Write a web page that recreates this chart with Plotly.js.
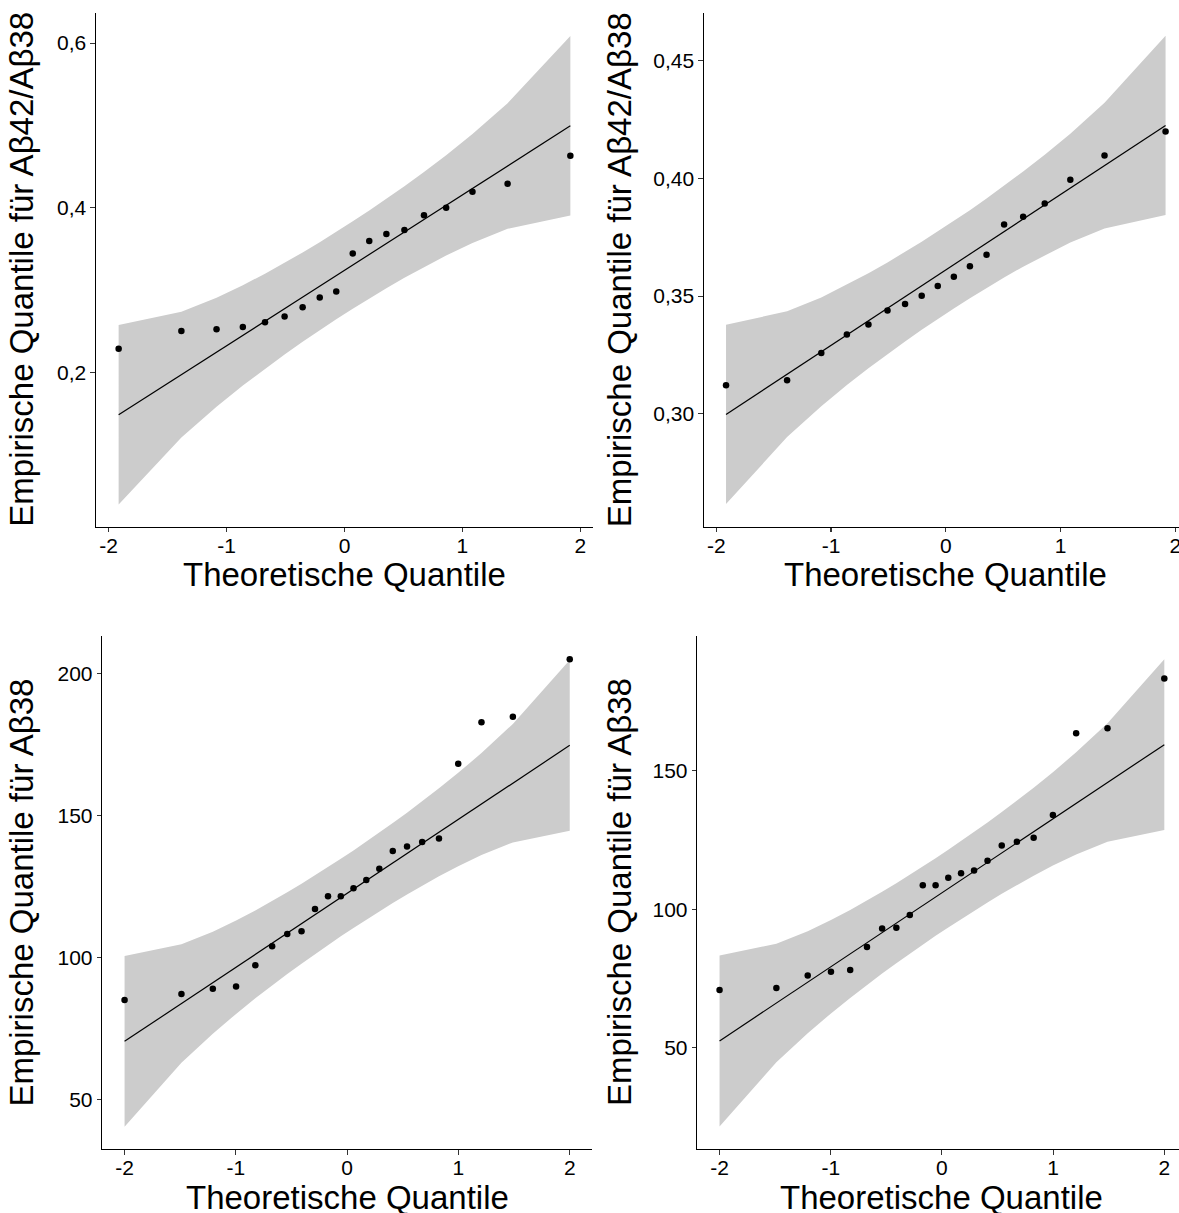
<!DOCTYPE html>
<html>
<head>
<meta charset="utf-8">
<script src="https://cdn.plot.ly/plotly-3.0.1.min.js"></script>
<style>html,body{margin:0;padding:0;background:#fff;}#chart{width:1179px;height:1213px;}</style>
</head>
<body>
<div id="chart"></div>
<script>
// Theoretical quantiles (x positions)
const xq18 = [-1.915, -1.383, -1.085, -0.862, -0.674, -0.508, -0.355, -0.210, -0.070, 0.070, 0.210, 0.355, 0.508, 0.674, 0.862, 1.085, 1.383, 1.915];
const xq22 = [-2.000, -1.489, -1.207, -0.998, -0.825, -0.674, -0.538, -0.410, -0.289, -0.172, -0.057, 0.057, 0.172, 0.289, 0.410, 0.538, 0.674, 0.825, 0.998, 1.207, 1.489, 2.000];

// Top-left: Aβ42/Aβ38
const tlPoints = [0.2287, 0.2502, 0.2522, 0.2551, 0.2608, 0.2677, 0.2790, 0.2908, 0.2981, 0.3444, 0.3594, 0.3680, 0.3728, 0.3907, 0.4000, 0.4195, 0.4292, 0.4630];
const tlLine = [0.1483, 0.4995];
const tlUpper = [0.2574, 0.2735, 0.2906, 0.3058, 0.3198, 0.3330, 0.3456, 0.3581, 0.3706, 0.3834, 0.3967, 0.4108, 0.4262, 0.4434, 0.4638, 0.4896, 0.5271, 0.6086];
const tlLower = [0.0392, 0.1207, 0.1582, 0.1840, 0.2044, 0.2216, 0.2370, 0.2511, 0.2644, 0.2772, 0.2897, 0.3022, 0.3148, 0.3280, 0.3420, 0.3572, 0.3743, 0.3904];

// Top-right: Aβ42/Aβ38
const trPoints = [0.3121, 0.3142, 0.3258, 0.3337, 0.3379, 0.3439, 0.3466, 0.3501, 0.3543, 0.3582, 0.3627, 0.3675, 0.3804, 0.3837, 0.3893, 0.3994, 0.4097, 0.4199];
const trLine = [0.2997, 0.4225];
const trUpper = [0.3378, 0.3435, 0.3494, 0.3548, 0.3597, 0.3643, 0.3687, 0.3731, 0.3775, 0.3819, 0.3865, 0.3915, 0.3969, 0.4029, 0.4100, 0.4190, 0.4321, 0.4606];
const trLower = [0.2616, 0.2901, 0.3032, 0.3122, 0.3193, 0.3253, 0.3307, 0.3357, 0.3403, 0.3447, 0.3491, 0.3535, 0.3579, 0.3625, 0.3674, 0.3728, 0.3787, 0.3844];

// Bottom-left: Aβ38
const blPoints = [85.0, 87.1, 88.9, 89.7, 97.2, 103.9, 108.2, 109.2, 117.0, 121.5, 121.5, 124.3, 127.2, 131.2, 137.4, 139.0, 140.6, 141.8, 168.1, 182.7, 184.7, 204.9];
const blLine = [70.4, 174.6];
const blUpper = [100.45, 104.56, 109.00, 112.93, 116.48, 119.77, 122.87, 125.89, 128.82, 131.74, 134.67, 137.63, 140.70, 143.88, 147.25, 150.89, 154.89, 159.46, 164.93, 171.88, 182.14, 204.65];
const blLower = [40.35, 62.86, 73.12, 80.07, 85.54, 90.11, 94.11, 97.75, 101.12, 104.30, 107.37, 110.33, 113.26, 116.18, 119.11, 122.13, 125.23, 128.52, 132.07, 136.00, 140.44, 144.55];

// Bottom-right: Aβ38
const brPoints = [70.9, 71.6, 76.1, 77.5, 78.1, 86.4, 93.1, 93.3, 97.9, 108.7, 108.7, 111.4, 113.0, 114.0, 117.5, 123.0, 124.4, 125.8, 134.0, 163.5, 165.3, 183.3];
const brLine = [52.5, 159.4];
const brUpper = [83.33, 87.55, 92.10, 96.13, 99.77, 103.16, 106.33, 109.42, 112.44, 115.42, 118.43, 121.47, 124.62, 127.88, 131.34, 135.09, 139.18, 143.87, 149.47, 156.62, 167.13, 190.23];
const brLower = [21.67, 44.77, 55.28, 62.43, 68.03, 72.72, 76.81, 80.56, 84.02, 87.28, 90.43, 93.47, 96.48, 99.46, 102.48, 105.57, 108.74, 112.13, 115.77, 119.80, 124.35, 128.57];

// Tick labels
const xTickVals = [-2, -1, 0, 1, 2];
const xTickText = ["-2", "-1", "0", "1", "2"];
const tlTickVals = [0.2, 0.4, 0.6];
const tlTickText = ["0,2", "0,4", "0,6"];
const trTickVals = [0.30, 0.35, 0.40, 0.45];
const trTickText = ["0,30", "0,35", "0,40", "0,45"];
const blTickVals = [50, 100, 150, 200];
const blTickText = ["50", "100", "150", "200"];
const brTickVals = [50, 100, 150];
const brTickText = ["50", "100", "150"];

const xTitle = "Theoretische Quantile";
const yTitleRatio = "Empirische Quantile für Aβ42/Aβ38";
const yTitle38 = "Empirische Quantile für Aβ38";

const FONT = '"Liberation Sans", Arial, Helvetica, sans-serif';
const W = 1179, H = 1213;

function panel(xs, pts, line, up, lo, xa, ya) {
  const bandX = xs.concat(xs.slice().reverse());
  const bandY = up.concat(lo.slice().reverse());
  return [
    {x: bandX, y: bandY, xaxis: xa, yaxis: ya, type: 'scatter', mode: 'lines', fill: 'toself',
     fillcolor: '#cccccc', line: {width: 0, color: 'rgba(0,0,0,0)'}, hoverinfo: 'skip', showlegend: false},
    {x: [xs[0], xs[xs.length - 1]], y: line, xaxis: xa, yaxis: ya, type: 'scatter', mode: 'lines',
     line: {color: '#000', width: 1.2}, showlegend: false},
    {x: xs, y: pts, xaxis: xa, yaxis: ya, type: 'scatter', mode: 'markers',
     marker: {color: '#000', size: 6.5}, showlegend: false}
  ];
}

const data = [].concat(
  panel(xq18, tlPoints, tlLine, tlUpper, tlLower, 'x', 'y'),
  panel(xq18, trPoints, trLine, trUpper, trLower, 'x2', 'y2'),
  panel(xq22, blPoints, blLine, blUpper, blLower, 'x3', 'y3'),
  panel(xq22, brPoints, brLine, brUpper, brLower, 'x4', 'y4')
);

function axis(extra) {
  return Object.assign({
    showline: true, linecolor: '#000', linewidth: 1.1,
    ticks: 'outside', ticklen: 4.5, tickwidth: 1.1, tickcolor: '#333',
    showgrid: false, zeroline: false, tickmode: 'array',
    tickfont: {family: FONT, size: 21, color: '#000'},
    ticklabeloverflow: 'allow', fixedrange: true
  }, extra);
}

const px = v => v / W;
const py = v => 1 - v / H;
const xStand = -5;

const layout = {
  width: W, height: H,
  margin: {l: 0, r: 0, t: 0, b: 0},
  paper_bgcolor: '#fff', plot_bgcolor: 'rgba(0,0,0,0)',
  font: {family: FONT, color: '#000'},
  showlegend: false,
  xaxis:  axis({domain: [px(96), px(593)], range: [-2.107, 2.107], anchor: 'y', tickvals: xTickVals, ticktext: xTickText, ticklabelstandoff: xStand}),
  yaxis:  axis({domain: [py(526.7), py(12.7)], range: [0.0123, 0.637], anchor: 'x', tickvals: tlTickVals, ticktext: tlTickText}),
  xaxis2: axis({domain: [px(704), 1], range: [-2.107, 2.032], anchor: 'y2', tickvals: xTickVals, ticktext: xTickText, ticklabelstandoff: xStand}),
  yaxis2: axis({domain: [py(526.7), py(12.7)], range: [0.2520, 0.4704], anchor: 'x2', tickvals: trTickVals, ticktext: trTickText}),
  xaxis3: axis({domain: [px(102.3), px(592)], range: [-2.2, 2.2], anchor: 'y3', tickvals: xTickVals, ticktext: xTickText, ticklabelstandoff: xStand}),
  yaxis3: axis({domain: [py(1149.3), py(636)], range: [32.4, 213.1], anchor: 'x3', tickvals: blTickVals, ticktext: blTickText}),
  xaxis4: axis({domain: [px(697.3), 1], range: [-2.2, 2.132], anchor: 'y4', tickvals: xTickVals, ticktext: xTickText, ticklabelstandoff: xStand}),
  yaxis4: axis({domain: [py(1149.3), py(636)], range: [13.4, 198.6], anchor: 'x4', tickvals: brTickVals, ticktext: brTickText}),
  annotations: [
    {text: xTitle, xref: 'paper', yref: 'paper', x: px(344.5), y: py(554), xanchor: 'center', yanchor: 'top', showarrow: false, font: {size: 33, family: FONT, color: '#000'}},
    {text: xTitle, xref: 'paper', yref: 'paper', x: px(945.5), y: py(554), xanchor: 'center', yanchor: 'top', showarrow: false, font: {size: 33, family: FONT, color: '#000'}},
    {text: xTitle, xref: 'paper', yref: 'paper', x: px(347), y: py(1177), xanchor: 'center', yanchor: 'top', showarrow: false, font: {size: 33, family: FONT, color: '#000'}},
    {text: xTitle, xref: 'paper', yref: 'paper', x: px(941.7), y: py(1177), xanchor: 'center', yanchor: 'top', showarrow: false, font: {size: 33, family: FONT, color: '#000'}},
    {text: yTitleRatio, xref: 'paper', yref: 'paper', x: px(22), y: py(269.7), xanchor: 'center', yanchor: 'middle', textangle: -90, showarrow: false, font: {size: 33, family: FONT, color: '#000'}},
    {text: yTitleRatio, xref: 'paper', yref: 'paper', x: px(619.5), y: py(269.7), xanchor: 'center', yanchor: 'middle', textangle: -90, showarrow: false, font: {size: 33, family: FONT, color: '#000'}},
    {text: yTitle38, xref: 'paper', yref: 'paper', x: px(22), y: py(892.6), xanchor: 'center', yanchor: 'middle', textangle: -90, showarrow: false, font: {size: 33, family: FONT, color: '#000'}},
    {text: yTitle38, xref: 'paper', yref: 'paper', x: px(619.5), y: py(892.6), xanchor: 'center', yanchor: 'middle', textangle: -90, showarrow: false, font: {size: 33, family: FONT, color: '#000'}}
  ]
};

Plotly.newPlot('chart', data, layout, {displayModeBar: false, staticPlot: true});
</script>
</body>
</html>
